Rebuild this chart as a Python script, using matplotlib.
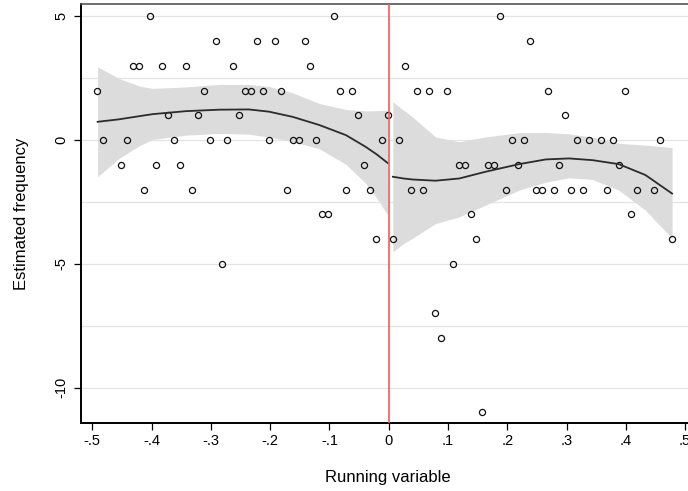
import matplotlib
matplotlib.use("Agg")
import matplotlib.pyplot as plt
import numpy as np

plt.rcParams['font.family'] = ['Liberation Sans', 'DejaVu Sans']

# ---- scatter data (binned running variable vs estimated frequency) ----
x_points = [-0.492, -0.482, -0.452, -0.442, -0.432, -0.422, -0.412, -0.402, -0.392, -0.382,
            -0.372, -0.362, -0.352, -0.342, -0.332, -0.322, -0.312, -0.302, -0.292, -0.282,
            -0.272, -0.262, -0.252, -0.242, -0.232, -0.222, -0.212, -0.202, -0.192, -0.182,
            -0.172, -0.162, -0.152, -0.142, -0.132, -0.122, -0.112, -0.102, -0.092, -0.082,
            -0.072, -0.062, -0.052, -0.042, -0.032, -0.022, -0.012, -0.002,
            0.008, 0.018, 0.028, 0.038, 0.048, 0.058, 0.068, 0.078, 0.088, 0.098,
            0.108, 0.118, 0.128, 0.138, 0.148, 0.158, 0.168, 0.178, 0.188, 0.198,
            0.208, 0.218, 0.228, 0.238, 0.248, 0.258, 0.268, 0.278, 0.288, 0.298,
            0.308, 0.318, 0.328, 0.338, 0.358, 0.368, 0.378, 0.388, 0.398, 0.408,
            0.418, 0.448, 0.458, 0.478]
y_points = [2, 0, -1, 0, 3, 3, -2, 5, -1, 3,
            1, 0, -1, 3, -2, 1, 2, 0, 4, -5,
            0, 3, 1, 2, 2, 4, 2, 0, 4, 2,
            -2, 0, 0, 4, 3, 0, -3, -3, 5, 2,
            -2, 2, 1, -1, -2, -4, 0, 1,
            -4, 0, 3, -2, 2, -2, 2, -7, -8, 2,
            -5, -1, -1, -3, -4, -11, -1, -1, 5, -2,
            0, -1, 0, 4, -2, -2, 2, -2, -1, 1,
            -2, 0, -2, 0, 0, -2, 0, -1, 2, -3,
            -2, -2, 0, -4]

# ---- fitted line and confidence band, left of cutoff ----
fit_x_left = [-0.491, -0.455, -0.420, -0.398, -0.342, -0.286, -0.236, -0.202,
              -0.162, -0.117, -0.072, -0.039, -0.020, -0.002]
fit_y_left = [0.74, 0.84, 0.97, 1.05, 1.17, 1.23, 1.24, 1.15,
              0.94, 0.61, 0.20, -0.27, -0.58, -0.92]
ci_hi_left = [2.96, 2.49, 2.18, 2.09, 2.15, 2.25, 2.25, 2.17,
              1.91, 1.48, 1.24, 1.18, 1.19, 1.21]
ci_lo_left = [-1.48, -0.74, -0.22, 0.03, 0.20, 0.27, 0.24, 0.12,
              -0.06, -0.35, -0.98, -1.74, -2.35, -3.02]

# ---- fitted line and confidence band, right of cutoff ----
fit_x_right = [0.007, 0.025, 0.040, 0.079, 0.119, 0.163, 0.220, 0.265,
               0.304, 0.344, 0.388, 0.433, 0.478]
fit_y_right = [-1.48, -1.55, -1.59, -1.64, -1.55, -1.28, -0.97, -0.78,
               -0.74, -0.81, -0.97, -1.41, -2.16]
ci_hi_right = [1.55, 1.21, 0.94, 0.13, -0.07, 0.13, 0.30, 0.31,
               0.25, 0.12, -0.13, -0.20, -0.30]
ci_lo_right = [-4.51, -4.18, -3.97, -3.37, -3.10, -2.63, -2.02, -1.70,
               -1.52, -1.59, -2.02, -2.83, -3.97]

cutoff = 0.0
x_ticks = [-0.5, -0.4, -0.3, -0.2, -0.1, 0.0, 0.1, 0.2, 0.3, 0.4, 0.5]
x_ticklabels = ['-.5', '-.4', '-.3', '-.2', '-.1', '0', '.1', '.2', '.3', '.4', '.5']
y_ticks = [5, 0, -5, -10]
y_grid = [5, 2.5, 0, -2.5, -5, -7.5, -10]

W, H = 688, 491
fig = plt.figure(figsize=(W / 100, H / 100), dpi=100)
left, right, top, bottom = 81, 697, 4, 423
ax = fig.add_axes([left / W, 1 - bottom / H, (right - left) / W, (bottom - top) / H])

ax.set_xlim(-0.519, 0.52)
ax.set_ylim(-11.43, 5.5)

for g in y_grid:
    ax.axhline(g, color='#e4e4e4', lw=0.9, zorder=0)

band_col = '#dcdcdc'
ax.fill_between(fit_x_left, ci_lo_left, ci_hi_left, color=band_col, lw=0, zorder=1)
ax.fill_between(fit_x_right, ci_lo_right, ci_hi_right, color=band_col, lw=0, zorder=1)

ax.plot(x_points, y_points, linestyle='none', marker='o', markersize=4.4,
        markerfacecolor='none', markeredgecolor='#111111', markeredgewidth=0.9, zorder=3)

ax.plot(fit_x_left, fit_y_left, color='#2b2b2b', lw=1.3, zorder=4)
ax.plot(fit_x_right, fit_y_right, color='#2b2b2b', lw=1.3, zorder=4)

ax.axvline(cutoff, color='#ff5555', lw=1.2, zorder=5)

ax.set_xticks(x_ticks)
ax.set_xticklabels(x_ticklabels)
ax.set_yticks(y_ticks)
ax.set_yticklabels([str(v) for v in y_ticks], rotation=90, va='center')
ax.tick_params(axis='both', direction='out', length=5, width=0.9, colors='black',
               labelsize=10.5)
ax.tick_params(axis='y', pad=4)
ax.tick_params(axis='x', pad=3)

for s in ['left', 'bottom']:
    ax.spines[s].set_color('black')
    ax.spines[s].set_linewidth(1.4)
ax.spines['top'].set_color('#555555')
ax.spines['top'].set_linewidth(1.2)
ax.spines['right'].set_visible(False)

ax.set_xlabel('Running variable', fontsize=12)
ax.set_ylabel('Estimated frequency', fontsize=12)
ax.xaxis.set_label_coords((388 - left) / (right - left), -(470 - bottom) / (bottom - top))
ax.yaxis.set_label_coords(-(left - 29) / (right - left), 0.5)

fig.savefig('out.png', dpi=100)
